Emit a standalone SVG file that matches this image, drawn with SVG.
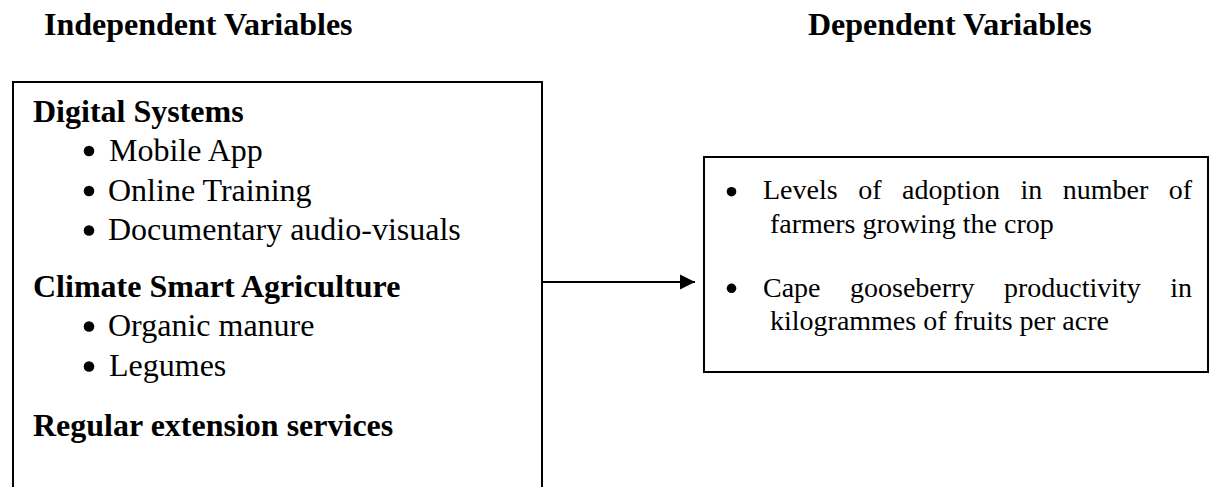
<svg xmlns="http://www.w3.org/2000/svg" width="1210" height="487" viewBox="0 0 1210 487">
<style>
  text { font-family: "Liberation Serif", "Times New Roman", serif; fill: #000; }
  .title { font-size: 32px; font-weight: bold; }
  .head { font-size: 32px; font-weight: bold; }
  .item { font-size: 32px; }
  .ritem { font-size: 28px; }
  .dot { fill: #000; }
  .box { fill: #fff; stroke: #000; stroke-width: 2; }
  .conn { fill: none; stroke: #000; stroke-width: 2; }
</style>
<defs>
  <marker id="arrow" markerUnits="userSpaceOnUse" markerWidth="16" markerHeight="16" refX="15" refY="8" orient="auto">
    <path d="M0,0.5 L15,8 L0,15.5 Z" fill="#000"/>
  </marker>
</defs>
<rect width="1210" height="487" fill="#fff"/>
<g id="titles">
  <text class="title" x="44" y="35">Independent Variables</text>
  <text class="title" x="808" y="35">Dependent Variables</text>
</g>
<g id="independent">
  <rect class="box" x="13" y="82" width="529" height="430"/>
  <text class="head" x="33" y="122">Digital Systems</text>
  <circle class="dot" cx="89" cy="151" r="5.3"/>
  <text class="item" x="109" y="161">Mobile App</text>
  <circle class="dot" cx="89" cy="191" r="5.3"/>
  <text class="item" x="108" y="201">Online Training</text>
  <circle class="dot" cx="89" cy="230.5" r="5.3"/>
  <text class="item" x="108" y="240">Documentary audio-visuals</text>
  <text class="head" x="33" y="297">Climate Smart Agriculture</text>
  <circle class="dot" cx="89" cy="326.5" r="5.3"/>
  <text class="item" x="108" y="336">Organic manure</text>
  <circle class="dot" cx="89" cy="366.5" r="5.3"/>
  <text class="item" x="109" y="376">Legumes</text>
  <text class="head" x="33" y="436">Regular extension services</text>
</g>
<g id="dependent">
  <rect class="box" x="704" y="157" width="504" height="215"/>
  <circle class="dot" cx="731.5" cy="191.7" r="4.8"/>
  <text class="ritem" x="763" y="199" word-spacing="13.5">Levels of adoption in number of</text>
  <text class="ritem" x="770" y="233">farmers growing the crop</text>
  <circle class="dot" cx="731.5" cy="288.3" r="4.8"/>
  <text class="ritem" x="763" y="296.5" word-spacing="22.5">Cape gooseberry productivity in</text>
  <text class="ritem" x="770" y="329.5">kilogrammes of fruits per acre</text>
</g>
<g id="connectors">
  <line class="conn" x1="542" y1="282" x2="695" y2="282" marker-end="url(#arrow)"/>
</g>
</svg>
